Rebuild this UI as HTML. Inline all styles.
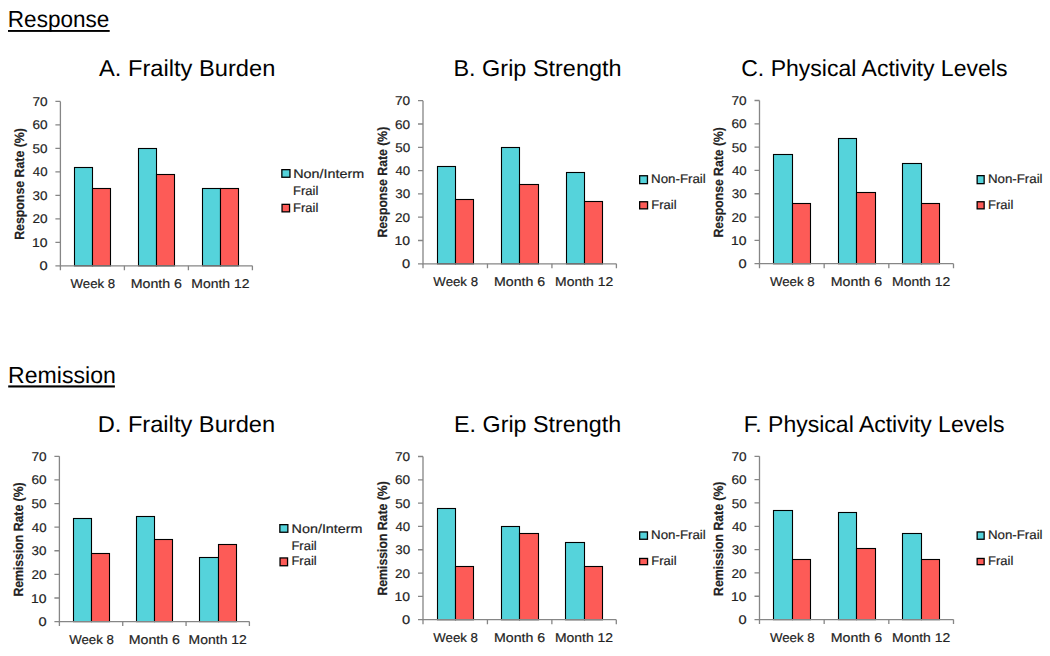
<!DOCTYPE html>
<html><head><meta charset="utf-8"><title>Frailty charts</title>
<style>
html,body{margin:0;padding:0;background:#fff;width:1050px;height:656px;overflow:hidden}
svg{display:block;font-family:"Liberation Sans",sans-serif;text-rendering:geometricPrecision}
.t{stroke:#222;stroke-width:0.18px}
</style></head>
<body>
<svg width="1050" height="656" viewBox="0 0 1050 656">
<rect width="1050" height="656" fill="#fff"/>
<rect x="74.5" y="167.5" width="18" height="98.3" fill="#55d3db" stroke="#000" stroke-width="1.1"/>
<rect x="92.5" y="188.5" width="18" height="77.3" fill="#fd5b57" stroke="#000" stroke-width="1.1"/>
<rect x="138.5" y="148.5" width="18" height="117.3" fill="#55d3db" stroke="#000" stroke-width="1.1"/>
<rect x="156.5" y="174.5" width="18" height="91.3" fill="#fd5b57" stroke="#000" stroke-width="1.1"/>
<rect x="202.5" y="188.5" width="18" height="77.3" fill="#55d3db" stroke="#000" stroke-width="1.1"/>
<rect x="220.5" y="188.5" width="18" height="77.3" fill="#fd5b57" stroke="#000" stroke-width="1.1"/>
<path d="M60.4 101.4V265.8H252.4" fill="none" stroke="#868686" stroke-width="1.3"/>
<path d="M55.4 101.4H60.4M55.4 124.89H60.4M55.4 148.37H60.4M55.4 171.86H60.4M55.4 195.34H60.4M55.4 218.83H60.4M55.4 242.31H60.4M55.4 265.8H60.4M60.4 265.8V270.3M124.4 265.8V270.3M188.4 265.8V270.3M252.4 265.8V270.3" fill="none" stroke="#868686" stroke-width="1.3"/>
<text x="32.4" y="105.97" font-size="12.7" textLength="15.13" lengthAdjust="spacingAndGlyphs" fill="#222" class="t">70</text>
<text x="32.41" y="129.45" font-size="12.7" textLength="15.12" lengthAdjust="spacingAndGlyphs" fill="#222" class="t">60</text>
<text x="32.56" y="152.94" font-size="12.7" textLength="14.96" lengthAdjust="spacingAndGlyphs" fill="#222" class="t">50</text>
<text x="32.8" y="176.43" font-size="12.7" textLength="14.72" lengthAdjust="spacingAndGlyphs" fill="#222" class="t">40</text>
<text x="32.59" y="199.91" font-size="12.7" textLength="14.94" lengthAdjust="spacingAndGlyphs" fill="#222" class="t">30</text>
<text x="32.42" y="223.4" font-size="12.7" textLength="15.11" lengthAdjust="spacingAndGlyphs" fill="#222" class="t">20</text>
<text x="32.04" y="246.88" font-size="12.7" textLength="15.51" lengthAdjust="spacingAndGlyphs" fill="#222" class="t">10</text>
<text x="39.43" y="270.37" font-size="12.7" textLength="8.14" lengthAdjust="spacingAndGlyphs" fill="#222" class="t">0</text>
<text x="70.54" y="288.3" font-size="12.8" textLength="44.63" lengthAdjust="spacingAndGlyphs" fill="#222" class="t">Week 8</text>
<text x="130.69" y="288.3" font-size="12.8" textLength="51.29" lengthAdjust="spacingAndGlyphs" fill="#222" class="t">Month 6</text>
<text x="191.31" y="288.3" font-size="12.8" textLength="58.15" lengthAdjust="spacingAndGlyphs" fill="#222" class="t">Month 12</text>
<text class="t" transform="translate(24.2 0) rotate(-90)" x="-239.83" y="0" font-size="13.4" font-weight="bold" textLength="111.74" lengthAdjust="spacingAndGlyphs" fill="#222">Response Rate (%)</text>
<text x="99.05" y="75.8" font-size="23.0" textLength="176.28" lengthAdjust="spacingAndGlyphs" fill="#000">A. Frailty Burden</text>
<rect x="281.85" y="169.65" width="8.1" height="7.6" fill="#55d3db" stroke="#000" stroke-width="1.3"/>
<rect x="282.05" y="204.35" width="7.5" height="7.5" fill="#fd5b57" stroke="#000" stroke-width="1.3"/>
<text x="293.22" y="177.7" font-size="12.5" textLength="70.92" lengthAdjust="spacingAndGlyphs" fill="#222" class="t">Non/Interm</text>
<text x="293.14" y="194.9" font-size="12.5" textLength="25.23" lengthAdjust="spacingAndGlyphs" fill="#222" class="t">Frail</text>
<text x="293.14" y="212" font-size="12.5" textLength="25.23" lengthAdjust="spacingAndGlyphs" fill="#222" class="t">Frail</text>
<rect x="437.5" y="166.5" width="18" height="97.3" fill="#55d3db" stroke="#000" stroke-width="1.1"/>
<rect x="455.5" y="199.5" width="18" height="64.3" fill="#fd5b57" stroke="#000" stroke-width="1.1"/>
<rect x="501.5" y="147.5" width="18" height="116.3" fill="#55d3db" stroke="#000" stroke-width="1.1"/>
<rect x="519.5" y="184.5" width="19" height="79.3" fill="#fd5b57" stroke="#000" stroke-width="1.1"/>
<rect x="566.5" y="172.5" width="18" height="91.3" fill="#55d3db" stroke="#000" stroke-width="1.1"/>
<rect x="584.5" y="201.5" width="18" height="62.3" fill="#fd5b57" stroke="#000" stroke-width="1.1"/>
<path d="M423 100.7V263.8H616.4" fill="none" stroke="#868686" stroke-width="1.3"/>
<path d="M418 100.7H423M418 124H423M418 147.3H423M418 170.6H423M418 193.9H423M418 217.2H423M418 240.5H423M418 263.8H423M423 263.8V268.3M487.47 263.8V268.3M551.93 263.8V268.3M616.4 263.8V268.3" fill="none" stroke="#868686" stroke-width="1.3"/>
<text x="395" y="105.27" font-size="12.7" textLength="15.13" lengthAdjust="spacingAndGlyphs" fill="#222" class="t">70</text>
<text x="395.01" y="128.57" font-size="12.7" textLength="15.12" lengthAdjust="spacingAndGlyphs" fill="#222" class="t">60</text>
<text x="395.16" y="151.87" font-size="12.7" textLength="14.96" lengthAdjust="spacingAndGlyphs" fill="#222" class="t">50</text>
<text x="395.4" y="175.17" font-size="12.7" textLength="14.72" lengthAdjust="spacingAndGlyphs" fill="#222" class="t">40</text>
<text x="395.19" y="198.47" font-size="12.7" textLength="14.94" lengthAdjust="spacingAndGlyphs" fill="#222" class="t">30</text>
<text x="395.02" y="221.77" font-size="12.7" textLength="15.11" lengthAdjust="spacingAndGlyphs" fill="#222" class="t">20</text>
<text x="394.64" y="245.07" font-size="12.7" textLength="15.51" lengthAdjust="spacingAndGlyphs" fill="#222" class="t">10</text>
<text x="402.03" y="268.37" font-size="12.7" textLength="8.14" lengthAdjust="spacingAndGlyphs" fill="#222" class="t">0</text>
<text x="433.38" y="286.3" font-size="12.8" textLength="44.63" lengthAdjust="spacingAndGlyphs" fill="#222" class="t">Week 8</text>
<text x="493.99" y="286.3" font-size="12.8" textLength="51.29" lengthAdjust="spacingAndGlyphs" fill="#222" class="t">Month 6</text>
<text x="555.07" y="286.3" font-size="12.8" textLength="58.15" lengthAdjust="spacingAndGlyphs" fill="#222" class="t">Month 12</text>
<text class="t" transform="translate(386.7 0) rotate(-90)" x="-237.52" y="0" font-size="13.4" font-weight="bold" textLength="110.73" lengthAdjust="spacingAndGlyphs" fill="#222">Response Rate (%)</text>
<text x="453.48" y="75.8" font-size="23.0" textLength="168.04" lengthAdjust="spacingAndGlyphs" fill="#000">B. Grip Strength</text>
<rect x="639.65" y="175.75" width="7.8" height="7.9" fill="#55d3db" stroke="#000" stroke-width="1.3"/>
<rect x="639.65" y="201.75" width="7.9" height="7.1" fill="#fd5b57" stroke="#000" stroke-width="1.3"/>
<text x="651.11" y="182.8" font-size="12.5" textLength="54.68" lengthAdjust="spacingAndGlyphs" fill="#222" class="t">Non-Frail</text>
<text x="651.34" y="209.3" font-size="12.5" textLength="25.23" lengthAdjust="spacingAndGlyphs" fill="#222" class="t">Frail</text>
<rect x="773.5" y="154.5" width="19" height="109.2" fill="#55d3db" stroke="#000" stroke-width="1.1"/>
<rect x="792.5" y="203.5" width="18" height="60.2" fill="#fd5b57" stroke="#000" stroke-width="1.1"/>
<rect x="838.5" y="138.5" width="18" height="125.2" fill="#55d3db" stroke="#000" stroke-width="1.1"/>
<rect x="856.5" y="192.5" width="19" height="71.2" fill="#fd5b57" stroke="#000" stroke-width="1.1"/>
<rect x="902.5" y="163.5" width="19" height="100.2" fill="#55d3db" stroke="#000" stroke-width="1.1"/>
<rect x="921.5" y="203.5" width="18" height="60.2" fill="#fd5b57" stroke="#000" stroke-width="1.1"/>
<path d="M759.5 100.5V263.7H953.5" fill="none" stroke="#868686" stroke-width="1.3"/>
<path d="M754.5 100.5H759.5M754.5 123.81H759.5M754.5 147.13H759.5M754.5 170.44H759.5M754.5 193.76H759.5M754.5 217.07H759.5M754.5 240.39H759.5M754.5 263.7H759.5M759.5 263.7V268.2M824.17 263.7V268.2M888.83 263.7V268.2M953.5 263.7V268.2" fill="none" stroke="#868686" stroke-width="1.3"/>
<text x="731.5" y="105.07" font-size="12.7" textLength="15.13" lengthAdjust="spacingAndGlyphs" fill="#222" class="t">70</text>
<text x="731.51" y="128.38" font-size="12.7" textLength="15.12" lengthAdjust="spacingAndGlyphs" fill="#222" class="t">60</text>
<text x="731.66" y="151.7" font-size="12.7" textLength="14.96" lengthAdjust="spacingAndGlyphs" fill="#222" class="t">50</text>
<text x="731.9" y="175.01" font-size="12.7" textLength="14.72" lengthAdjust="spacingAndGlyphs" fill="#222" class="t">40</text>
<text x="731.69" y="198.33" font-size="12.7" textLength="14.94" lengthAdjust="spacingAndGlyphs" fill="#222" class="t">30</text>
<text x="731.52" y="221.64" font-size="12.7" textLength="15.11" lengthAdjust="spacingAndGlyphs" fill="#222" class="t">20</text>
<text x="731.14" y="244.95" font-size="12.7" textLength="15.51" lengthAdjust="spacingAndGlyphs" fill="#222" class="t">10</text>
<text x="738.53" y="268.27" font-size="12.7" textLength="8.14" lengthAdjust="spacingAndGlyphs" fill="#222" class="t">0</text>
<text x="769.98" y="286.2" font-size="12.8" textLength="44.63" lengthAdjust="spacingAndGlyphs" fill="#222" class="t">Week 8</text>
<text x="830.79" y="286.2" font-size="12.8" textLength="51.29" lengthAdjust="spacingAndGlyphs" fill="#222" class="t">Month 6</text>
<text x="892.07" y="286.2" font-size="12.8" textLength="58.15" lengthAdjust="spacingAndGlyphs" fill="#222" class="t">Month 12</text>
<text class="t" transform="translate(723.3 0) rotate(-90)" x="-237.62" y="0" font-size="13.4" font-weight="bold" textLength="110.52" lengthAdjust="spacingAndGlyphs" fill="#222">Response Rate (%)</text>
<text x="741.24" y="75.8" font-size="23.0" textLength="266.19" lengthAdjust="spacingAndGlyphs" fill="#000">C. Physical Activity Levels</text>
<rect x="977.15" y="175.65" width="7" height="8" fill="#55d3db" stroke="#000" stroke-width="1.3"/>
<rect x="977.15" y="201.75" width="7" height="7.1" fill="#fd5b57" stroke="#000" stroke-width="1.3"/>
<text x="987.91" y="183" font-size="12.5" textLength="54.68" lengthAdjust="spacingAndGlyphs" fill="#222" class="t">Non-Frail</text>
<text x="988.14" y="209.3" font-size="12.5" textLength="25.23" lengthAdjust="spacingAndGlyphs" fill="#222" class="t">Frail</text>
<rect x="73.5" y="518.5" width="18" height="103.1" fill="#55d3db" stroke="#000" stroke-width="1.1"/>
<rect x="91.5" y="553.5" width="18" height="68.1" fill="#fd5b57" stroke="#000" stroke-width="1.1"/>
<rect x="136.5" y="516.5" width="18" height="105.1" fill="#55d3db" stroke="#000" stroke-width="1.1"/>
<rect x="154.5" y="539.5" width="18" height="82.1" fill="#fd5b57" stroke="#000" stroke-width="1.1"/>
<rect x="199.5" y="557.5" width="19" height="64.1" fill="#55d3db" stroke="#000" stroke-width="1.1"/>
<rect x="218.5" y="544.5" width="18" height="77.1" fill="#fd5b57" stroke="#000" stroke-width="1.1"/>
<path d="M59.4 456.3V621.6H249.4" fill="none" stroke="#868686" stroke-width="1.3"/>
<path d="M54.4 456.3H59.4M54.4 479.91H59.4M54.4 503.53H59.4M54.4 527.14H59.4M54.4 550.76H59.4M54.4 574.37H59.4M54.4 597.99H59.4M54.4 621.6H59.4M59.4 621.6V626.1M122.73 621.6V626.1M186.07 621.6V626.1M249.4 621.6V626.1" fill="none" stroke="#868686" stroke-width="1.3"/>
<text x="31.4" y="460.87" font-size="12.7" textLength="15.13" lengthAdjust="spacingAndGlyphs" fill="#222" class="t">70</text>
<text x="31.41" y="484.48" font-size="12.7" textLength="15.12" lengthAdjust="spacingAndGlyphs" fill="#222" class="t">60</text>
<text x="31.56" y="508.1" font-size="12.7" textLength="14.96" lengthAdjust="spacingAndGlyphs" fill="#222" class="t">50</text>
<text x="31.8" y="531.71" font-size="12.7" textLength="14.72" lengthAdjust="spacingAndGlyphs" fill="#222" class="t">40</text>
<text x="31.59" y="555.33" font-size="12.7" textLength="14.94" lengthAdjust="spacingAndGlyphs" fill="#222" class="t">30</text>
<text x="31.42" y="578.94" font-size="12.7" textLength="15.11" lengthAdjust="spacingAndGlyphs" fill="#222" class="t">20</text>
<text x="31.04" y="602.55" font-size="12.7" textLength="15.51" lengthAdjust="spacingAndGlyphs" fill="#222" class="t">10</text>
<text x="38.43" y="626.17" font-size="12.7" textLength="8.14" lengthAdjust="spacingAndGlyphs" fill="#222" class="t">0</text>
<text x="69.21" y="644.1" font-size="12.8" textLength="44.63" lengthAdjust="spacingAndGlyphs" fill="#222" class="t">Week 8</text>
<text x="128.69" y="644.1" font-size="12.8" textLength="51.29" lengthAdjust="spacingAndGlyphs" fill="#222" class="t">Month 6</text>
<text x="188.64" y="644.1" font-size="12.8" textLength="58.15" lengthAdjust="spacingAndGlyphs" fill="#222" class="t">Month 12</text>
<text class="t" transform="translate(22.9 0) rotate(-90)" x="-596.62" y="0" font-size="13.4" font-weight="bold" textLength="114.23" lengthAdjust="spacingAndGlyphs" fill="#222">Remission Rate (%)</text>
<text x="97.66" y="431.6" font-size="23.0" textLength="177.48" lengthAdjust="spacingAndGlyphs" fill="#000">D. Frailty Burden</text>
<rect x="279.85" y="524.65" width="8" height="7.6" fill="#55d3db" stroke="#000" stroke-width="1.3"/>
<rect x="280.05" y="557.95" width="7.5" height="7.8" fill="#fd5b57" stroke="#000" stroke-width="1.3"/>
<text x="291.62" y="532.7" font-size="12.5" textLength="70.92" lengthAdjust="spacingAndGlyphs" fill="#222" class="t">Non/Interm</text>
<text x="291.44" y="550.2" font-size="12.5" textLength="25.23" lengthAdjust="spacingAndGlyphs" fill="#222" class="t">Frail</text>
<text x="291.44" y="565.3" font-size="12.5" textLength="25.23" lengthAdjust="spacingAndGlyphs" fill="#222" class="t">Frail</text>
<rect x="437.5" y="508.5" width="18" height="111.2" fill="#55d3db" stroke="#000" stroke-width="1.1"/>
<rect x="455.5" y="566.5" width="18" height="53.2" fill="#fd5b57" stroke="#000" stroke-width="1.1"/>
<rect x="501.5" y="526.5" width="18" height="93.2" fill="#55d3db" stroke="#000" stroke-width="1.1"/>
<rect x="519.5" y="533.5" width="19" height="86.2" fill="#fd5b57" stroke="#000" stroke-width="1.1"/>
<rect x="565.5" y="542.5" width="19" height="77.2" fill="#55d3db" stroke="#000" stroke-width="1.1"/>
<rect x="584.5" y="566.5" width="18" height="53.2" fill="#fd5b57" stroke="#000" stroke-width="1.1"/>
<path d="M423 456.5V619.7H616.3" fill="none" stroke="#868686" stroke-width="1.3"/>
<path d="M418 456.5H423M418 479.81H423M418 503.13H423M418 526.44H423M418 549.76H423M418 573.07H423M418 596.39H423M418 619.7H423M423 619.7V624.2M487.43 619.7V624.2M551.87 619.7V624.2M616.3 619.7V624.2" fill="none" stroke="#868686" stroke-width="1.3"/>
<text x="395" y="461.07" font-size="12.7" textLength="15.13" lengthAdjust="spacingAndGlyphs" fill="#222" class="t">70</text>
<text x="395.01" y="484.38" font-size="12.7" textLength="15.12" lengthAdjust="spacingAndGlyphs" fill="#222" class="t">60</text>
<text x="395.16" y="507.7" font-size="12.7" textLength="14.96" lengthAdjust="spacingAndGlyphs" fill="#222" class="t">50</text>
<text x="395.4" y="531.01" font-size="12.7" textLength="14.72" lengthAdjust="spacingAndGlyphs" fill="#222" class="t">40</text>
<text x="395.19" y="554.33" font-size="12.7" textLength="14.94" lengthAdjust="spacingAndGlyphs" fill="#222" class="t">30</text>
<text x="395.02" y="577.64" font-size="12.7" textLength="15.11" lengthAdjust="spacingAndGlyphs" fill="#222" class="t">20</text>
<text x="394.64" y="600.95" font-size="12.7" textLength="15.51" lengthAdjust="spacingAndGlyphs" fill="#222" class="t">10</text>
<text x="402.03" y="624.27" font-size="12.7" textLength="8.14" lengthAdjust="spacingAndGlyphs" fill="#222" class="t">0</text>
<text x="433.36" y="642.2" font-size="12.8" textLength="44.63" lengthAdjust="spacingAndGlyphs" fill="#222" class="t">Week 8</text>
<text x="493.94" y="642.2" font-size="12.8" textLength="51.29" lengthAdjust="spacingAndGlyphs" fill="#222" class="t">Month 6</text>
<text x="554.99" y="642.2" font-size="12.8" textLength="58.15" lengthAdjust="spacingAndGlyphs" fill="#222" class="t">Month 12</text>
<text class="t" transform="translate(387.1 0) rotate(-90)" x="-595.52" y="0" font-size="13.4" font-weight="bold" textLength="114.23" lengthAdjust="spacingAndGlyphs" fill="#222">Remission Rate (%)</text>
<text x="454.09" y="431.6" font-size="23.0" textLength="167.02" lengthAdjust="spacingAndGlyphs" fill="#000">E. Grip Strength</text>
<rect x="639.65" y="531.95" width="7.8" height="7.3" fill="#55d3db" stroke="#000" stroke-width="1.3"/>
<rect x="639.65" y="558.45" width="7.9" height="6.2" fill="#fd5b57" stroke="#000" stroke-width="1.3"/>
<text x="651.11" y="539" font-size="12.5" textLength="54.68" lengthAdjust="spacingAndGlyphs" fill="#222" class="t">Non-Frail</text>
<text x="651.34" y="565.1" font-size="12.5" textLength="25.23" lengthAdjust="spacingAndGlyphs" fill="#222" class="t">Frail</text>
<rect x="773.5" y="510.5" width="19" height="109.1" fill="#55d3db" stroke="#000" stroke-width="1.1"/>
<rect x="792.5" y="559.5" width="18" height="60.1" fill="#fd5b57" stroke="#000" stroke-width="1.1"/>
<rect x="838.5" y="512.5" width="18" height="107.1" fill="#55d3db" stroke="#000" stroke-width="1.1"/>
<rect x="856.5" y="548.5" width="19" height="71.1" fill="#fd5b57" stroke="#000" stroke-width="1.1"/>
<rect x="902.5" y="533.5" width="19" height="86.1" fill="#55d3db" stroke="#000" stroke-width="1.1"/>
<rect x="921.5" y="559.5" width="18" height="60.1" fill="#fd5b57" stroke="#000" stroke-width="1.1"/>
<path d="M759.5 456.3V619.6H953.5" fill="none" stroke="#868686" stroke-width="1.3"/>
<path d="M754.5 456.3H759.5M754.5 479.63H759.5M754.5 502.96H759.5M754.5 526.29H759.5M754.5 549.61H759.5M754.5 572.94H759.5M754.5 596.27H759.5M754.5 619.6H759.5M759.5 619.6V624.1M824.17 619.6V624.1M888.83 619.6V624.1M953.5 619.6V624.1" fill="none" stroke="#868686" stroke-width="1.3"/>
<text x="731.5" y="460.87" font-size="12.7" textLength="15.13" lengthAdjust="spacingAndGlyphs" fill="#222" class="t">70</text>
<text x="731.51" y="484.2" font-size="12.7" textLength="15.12" lengthAdjust="spacingAndGlyphs" fill="#222" class="t">60</text>
<text x="731.66" y="507.53" font-size="12.7" textLength="14.96" lengthAdjust="spacingAndGlyphs" fill="#222" class="t">50</text>
<text x="731.9" y="530.85" font-size="12.7" textLength="14.72" lengthAdjust="spacingAndGlyphs" fill="#222" class="t">40</text>
<text x="731.69" y="554.18" font-size="12.7" textLength="14.94" lengthAdjust="spacingAndGlyphs" fill="#222" class="t">30</text>
<text x="731.52" y="577.51" font-size="12.7" textLength="15.11" lengthAdjust="spacingAndGlyphs" fill="#222" class="t">20</text>
<text x="731.14" y="600.84" font-size="12.7" textLength="15.51" lengthAdjust="spacingAndGlyphs" fill="#222" class="t">10</text>
<text x="738.53" y="624.17" font-size="12.7" textLength="8.14" lengthAdjust="spacingAndGlyphs" fill="#222" class="t">0</text>
<text x="769.98" y="642.1" font-size="12.8" textLength="44.63" lengthAdjust="spacingAndGlyphs" fill="#222" class="t">Week 8</text>
<text x="830.79" y="642.1" font-size="12.8" textLength="51.29" lengthAdjust="spacingAndGlyphs" fill="#222" class="t">Month 6</text>
<text x="892.07" y="642.1" font-size="12.8" textLength="58.15" lengthAdjust="spacingAndGlyphs" fill="#222" class="t">Month 12</text>
<text class="t" transform="translate(723.2 0) rotate(-90)" x="-595.92" y="0" font-size="13.4" font-weight="bold" textLength="114.33" lengthAdjust="spacingAndGlyphs" fill="#222">Remission Rate (%)</text>
<text x="743.84" y="431.6" font-size="23.0" textLength="260.78" lengthAdjust="spacingAndGlyphs" fill="#000">F. Physical Activity Levels</text>
<rect x="977.15" y="531.95" width="7" height="7.3" fill="#55d3db" stroke="#000" stroke-width="1.3"/>
<rect x="977.15" y="558.45" width="7" height="6.2" fill="#fd5b57" stroke="#000" stroke-width="1.3"/>
<text x="987.91" y="539" font-size="12.5" textLength="54.68" lengthAdjust="spacingAndGlyphs" fill="#222" class="t">Non-Frail</text>
<text x="988.14" y="565.1" font-size="12.5" textLength="25.23" lengthAdjust="spacingAndGlyphs" fill="#222" class="t">Frail</text>
<text x="7.85" y="26.9" font-size="23.2" textLength="101.45" lengthAdjust="spacingAndGlyphs" fill="#000">Response</text>
<rect x="8" y="30" width="101.7" height="1.9" fill="#000"/>
<text x="8.11" y="383" font-size="23.2" textLength="107.69" lengthAdjust="spacingAndGlyphs" fill="#000">Remission</text>
<rect x="8.2" y="385.4" width="106.7" height="2.1" fill="#000"/>
</svg>
</body></html>
